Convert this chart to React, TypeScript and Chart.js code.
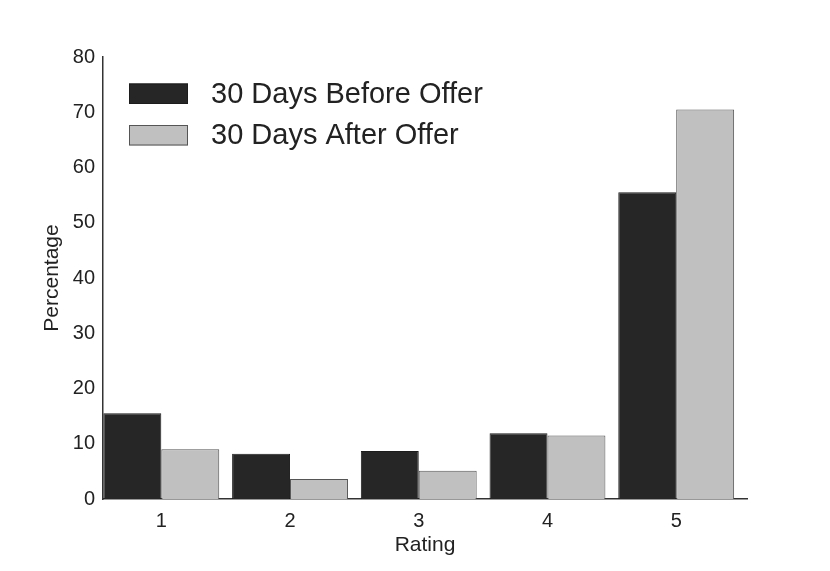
import { useEffect, useRef } from "react";
import { Chart, registerables } from "chart.js";

Chart.register(...registerables);

const ratings = [1, 2, 3, 4, 5];
const seriesLabels = ["30 Days Before Offer", "30 Days After Offer"];
const beforeOffer = [15.5, 8.2, 8.7, 11.9, 55.5];
const afterOffer = [9.0, 3.6, 5.1, 11.5, 70.5];
const yMin = 0;
const yMax = 80;
const yStep = 10;

const FONT = "'Liberation Sans', Arial, sans-serif";
const TEXT = "#222222";

const legendPlugin = {
  id: "insideLegend",
  afterDraw(chart: any) {
    const { ctx, chartArea } = chart;
    const boxW = 59;
    const boxH = 20.5;
    const x0 = chartArea.left + 26;
    const y0 = chartArea.top + 26.5;
    const rowH = 41.5;
    ctx.save();
    chart.data.datasets.forEach((ds: any, i: number) => {
      const y = y0 + i * rowH;
      ctx.fillStyle = ds.backgroundColor;
      ctx.fillRect(x0, y, boxW, boxH);
      ctx.strokeStyle = ds.borderColor;
      ctx.lineWidth = 1;
      ctx.strokeRect(x0 + 0.5, y + 0.5, boxW - 1, boxH - 1);
      ctx.fillStyle = TEXT;
      ctx.font = `29px ${FONT}`;
      ctx.textBaseline = "middle";
      ctx.textAlign = "left";
      ctx.fillText(ds.label, x0 + boxW + 23, y + boxH / 2 + 1);
    });
    ctx.restore();
  },
};

export default function App() {
  const ref = useRef<HTMLCanvasElement | null>(null);

  useEffect(() => {
    if (!ref.current) return;
    const chart = new Chart(ref.current, {
      type: "bar",
      data: {
        datasets: [
          {
            label: seriesLabels[0],
            data: ratings.map((r, i) => ({ x: r, y: beforeOffer[i] })),
            backgroundColor: "#262626",
            borderColor: "#1c1c1c",
            borderWidth: 1,
          },
          {
            label: seriesLabels[1],
            data: ratings.map((r, i) => ({ x: r, y: afterOffer[i] })),
            backgroundColor: "#c0c0c0",
            borderColor: "#555555",
            borderWidth: 1,
          },
        ],
      },
      options: {
        animation: false,
        responsive: false,
        maintainAspectRatio: false,
        layout: { padding: { left: 0, right: 83, top: 57, bottom: 0 } },
        plugins: {
          legend: { display: false },
          tooltip: { enabled: false },
        },
        datasets: { bar: { categoryPercentage: 0.9, barPercentage: 1.0 } },
        scales: {
          x: {
            type: "linear",
            offset: false,
            min: 0.547,
            max: 5.55,
            afterBuildTicks: (scale: any) => {
              scale.ticks = ratings.map((v) => ({ value: v }));
            },
            afterFit: (scale: any) => {
              scale.height = 72;
            },
            grid: { display: false, drawTicks: false },
            border: { display: true, color: "#333333", width: 1.5 },
            ticks: {
              padding: 10,
              color: TEXT,
              font: { family: FONT, size: 20 },
              callback: (v: any) => String(v),
            },
            title: {
              display: true,
              text: "Rating",
              color: TEXT,
              font: { family: FONT, size: 21 },
              padding: { top: 0, bottom: 13 },
            },
          },
          y: {
            min: yMin,
            max: yMax,
            afterFit: (scale: any) => {
              scale.width = 103;
            },
            grid: { display: false, drawTicks: false },
            border: { display: true, color: "#333333", width: 1.5 },
            ticks: {
              stepSize: yStep,
              padding: 8,
              color: TEXT,
              font: { family: FONT, size: 20 },
            },
            title: {
              display: true,
              text: "Percentage",
              color: TEXT,
              font: { family: FONT, size: 21 },
              padding: { top: 40, bottom: 0 },
            },
          },
        },
      },
      plugins: [legendPlugin],
    } as any);
    return () => chart.destroy();
  }, []);

  return (
    <div style={{ position: "fixed", left: 0, top: 0, width: 830, height: 571, background: "#fff" }}>
      <canvas ref={ref} width={830} height={571} style={{ width: 830, height: 571, display: "block" }} />
    </div>
  );
}
